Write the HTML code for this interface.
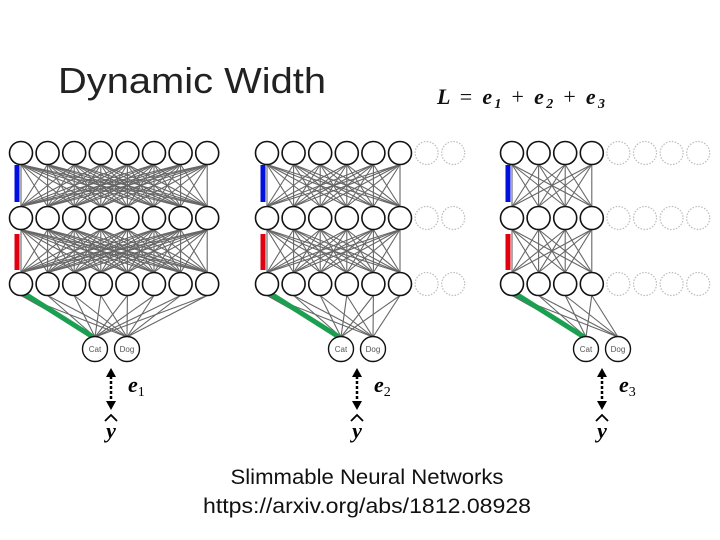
<!DOCTYPE html>
<html><head><meta charset="utf-8"><style>
html,body{margin:0;padding:0;background:#fff;}
svg{display:block;}
</style></head><body>
<svg id="s" width="720" height="540" xmlns="http://www.w3.org/2000/svg" font-family="Liberation Sans, sans-serif">
<text x="58" y="93" font-size="36" fill="#222" textLength="268" lengthAdjust="spacingAndGlyphs">Dynamic Width</text>
<text x="437" y="104" font-size="22" font-family="Liberation Serif, serif" font-style="italic" font-weight="bold" fill="#111" textLength="168">L <tspan font-style="normal" font-weight="normal">=</tspan> e<tspan font-size="14" dy="4">1</tspan><tspan dy="-4" font-style="normal" font-weight="normal"> + </tspan>e<tspan font-size="14" dy="4">2</tspan><tspan dy="-4" font-style="normal" font-weight="normal"> + </tspan>e<tspan font-size="14" dy="4">3</tspan></text>
<g id="g"></g>
<text x="367" y="484" font-size="21" text-anchor="middle" fill="#111" textLength="273" lengthAdjust="spacingAndGlyphs">Slimmable Neural Networks</text>
<text x="367" y="513" font-size="21" text-anchor="middle" fill="#111" textLength="328" lengthAdjust="spacingAndGlyphs">https://arxiv.org/abs/1812.08928</text>
</svg>
<script>
var g=document.getElementById('g'),h='';
var sp=26.6,r=11.5,rows=[153,218,284];
var nets=[{x0:21,n:8,cx:95,e:'1'},{x0:267,n:6,cx:341,e:'2'},{x0:512,n:4,cx:586,e:'3'}];
nets.forEach(function(N){
 var xs=[];for(var i=0;i<8;i++)xs.push(N.x0+i*sp);
 for(var L=0;L<2;L++){for(var a=0;a<N.n;a++)for(var b=0;b<N.n;b++)
  h+='<line x1="'+xs[a]+'" y1="'+(rows[L]+r)+'" x2="'+xs[b]+'" y2="'+(rows[L+1]-r)+'" stroke="#666" stroke-width="1.1"/>';}
 var outs=[N.cx,N.cx+32];
 for(var a=0;a<N.n;a++)outs.forEach(function(o){h+='<line x1="'+xs[a]+'" y1="'+(rows[2]+r)+'" x2="'+o+'" y2="'+(349-12)+'" stroke="#666" stroke-width="1.1"/>';});
 h+='<line x1="'+(xs[0]-4)+'" y1="165" x2="'+(xs[0]-4)+'" y2="202" stroke="#0010e0" stroke-width="5"/>';
 h+='<line x1="'+(xs[0]-4)+'" y1="234" x2="'+(xs[0]-4)+'" y2="270" stroke="#e00010" stroke-width="5"/>';
 h+='<line x1="'+(xs[0]+4)+'" y1="294" x2="'+(N.cx-2)+'" y2="337" stroke="#1aa050" stroke-width="5"/>';
 for(var L=0;L<3;L++)for(var i=0;i<8;i++){
  if(i<N.n)h+='<circle cx="'+xs[i]+'" cy="'+rows[L]+'" r="'+r+'" fill="#fff" stroke="#111" stroke-width="1.6"/>';
  else h+='<circle cx="'+xs[i]+'" cy="'+rows[L]+'" r="'+r+'" fill="#fff" stroke="#bbb" stroke-width="1.2" stroke-dasharray="1.5,1.5"/>';
 }
 h+='<circle cx="'+N.cx+'" cy="349" r="12.5" fill="#fff" stroke="#111" stroke-width="1.4"/><text x="'+N.cx+'" y="352" font-size="8" text-anchor="middle" fill="#555">Cat</text>';
 h+='<circle cx="'+(N.cx+32)+'" cy="349" r="12.5" fill="#fff" stroke="#111" stroke-width="1.4"/><text x="'+(N.cx+32)+'" y="352" font-size="8" text-anchor="middle" fill="#555">Dog</text>';
 var ax=N.cx+16;
 h+='<line x1="'+ax+'" y1="376" x2="'+ax+'" y2="402" stroke="#000" stroke-width="2.5" stroke-dasharray="3,2"/>';
 h+='<polygon points="'+(ax-5)+',377 '+(ax+5)+',377 '+ax+',368" fill="#000"/>';
 h+='<polygon points="'+(ax-5)+',401 '+(ax+5)+',401 '+ax+',410" fill="#000"/>';
 h+='<text x="'+(ax+17)+'" y="392" font-size="22" font-family="Liberation Serif, serif" font-style="italic" font-weight="bold">e<tspan font-size="14" dy="4" font-style="normal" font-weight="normal">'+N.e+'</tspan></text>';
 h+='<text x="'+ax+'" y="438" font-size="22" font-family="Liberation Serif, serif" font-style="italic" font-weight="bold" text-anchor="middle">y</text>';
 h+='<path d="M'+(ax-6)+' 421 L'+ax+' 415 L'+(ax+6)+' 421" fill="none" stroke="#000" stroke-width="1.8"/>';
});
g.innerHTML=h;
</script>
</body></html>
